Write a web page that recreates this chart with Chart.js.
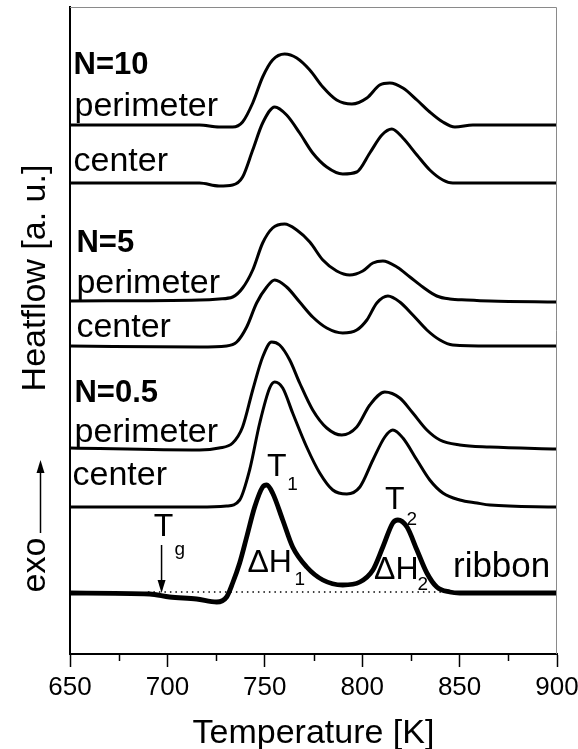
<!DOCTYPE html>
<html>
<head>
<meta charset="utf-8">
<script src="https://cdn.jsdelivr.net/npm/chart.js@4.4.1/dist/chart.umd.min.js"></script>
<style>
  html, body { margin: 0; padding: 0; background: #fff; }
  #wrap { width: 578px; height: 749px; position: relative; }
</style>
</head>
<body>
<div id="wrap"><canvas id="grafico"></canvas></div>
<script>
// temperatura [K] e heatflow [a. u.], curvas deslocadas na vertical
const n10PerimT  = [650, 716.5, 726.5, 733.5, 738.6, 743.8, 748.9, 754.0, 760.2, 766.4, 773.1, 779.8, 786.9, 794.7, 802.4, 809.0, 814.2, 820.9, 828.1, 834.7, 841.4, 847.6, 856.8, 900];
const n10PerimHF = [53.4, 53.4, 53.2, 53.2, 53.7, 55.6, 58.2, 59.9, 60.5, 60.1, 58.9, 57.2, 55.9, 55.5, 56.1, 57.4, 57.6, 57.1, 55.9, 54.7, 53.7, 53.2, 53.4, 53.4];

const n10CenterT  = [650, 716.5, 726.5, 733.5, 738.6, 743.8, 748.9, 755.1, 761.2, 767.9, 774.6, 781.8, 790.0, 797.2, 803.9, 810.1, 815.2, 820.9, 828.1, 834.7, 841.4, 846.5, 900];
const n10CenterHF = [47.6, 47.6, 47.3, 47.4, 48.2, 50.9, 53.6, 55.2, 54.4, 52.6, 50.6, 49.2, 48.5, 48.7, 50.6, 52.4, 53.0, 52.1, 50.4, 48.9, 47.9, 47.6, 47.6];

const n5PerimT  = [650, 716.5, 726.5, 733.5, 738.6, 743.8, 748.9, 754.0, 760.2, 766.4, 773.1, 779.8, 786.9, 793.6, 800.3, 805.5, 810.6, 817.8, 824.5, 831.1, 838.3, 845.0, 853.7, 865.6, 900];
const n5PerimHF = [35.8, 35.9, 36.0, 36.2, 37.1, 38.9, 41.6, 43.1, 43.5, 42.9, 41.7, 39.9, 38.8, 38.4, 38.8, 39.6, 39.8, 39.2, 38.2, 37.2, 36.3, 36.0, 35.9, 35.8, 35.7];

const n5CenterT  = [650, 716.5, 730.4, 735.6, 740.7, 745.8, 751.0, 755.1, 761.2, 767.9, 774.6, 781.8, 790.0, 797.2, 802.4, 807.5, 813.2, 819.3, 826.0, 833.2, 839.9, 846.5, 865.6, 900];
const n5CenterHF = [31.3, 31.2, 31.3, 31.7, 33.2, 35.6, 37.2, 37.9, 37.2, 35.7, 34.2, 33.1, 32.6, 32.9, 33.9, 35.6, 36.3, 35.7, 34.4, 32.9, 31.9, 31.4, 31.3, 31.3];

const n05PerimT  = [650, 716.5, 726.5, 733.5, 738.6, 743.8, 748.9, 753.5, 757.6, 762.8, 767.9, 774.6, 781.8, 789.5, 797.2, 803.9, 811.6, 819.3, 826.0, 833.2, 839.9, 850.1, 865.6, 900];
const n05PerimHF = [21.1, 20.9, 21.1, 21.6, 23.2, 26.9, 30.2, 31.7, 31.4, 29.9, 27.6, 24.9, 23.1, 22.4, 23.2, 25.4, 26.7, 26.1, 24.6, 22.9, 21.9, 21.4, 21.2, 21.0];

const n05CenterT  = [650, 716.5, 730.4, 737.1, 742.2, 747.4, 752.5, 755.1, 759.2, 764.3, 771.5, 778.2, 784.9, 792.1, 798.8, 805.5, 811.6, 815.7, 820.9, 828.1, 834.7, 841.4, 850.1, 858.9, 865.6, 900];
const n05CenterHF = [15.2, 15.2, 15.3, 15.9, 18.9, 23.6, 27.1, 27.7, 27.1, 24.6, 21.2, 18.6, 16.9, 16.5, 17.2, 19.9, 22.2, 22.9, 22.1, 19.9, 17.9, 16.6, 15.9, 15.6, 15.4, 15.2];

const ribbonT  = [650, 690.9, 701.1, 715.0, 725.3, 730.4, 733.5, 737.1, 740.7, 744.8, 748.9, 751.0, 754.0, 759.2, 764.3, 771.5, 779.8, 790.0, 798.8, 805.5, 810.6, 815.7, 818.3, 823.0, 828.1, 833.2, 838.3, 845.0, 850.1, 900];
const ribbonHF = [6.6, 6.5, 6.2, 6.0, 5.7, 6.2, 7.6, 9.6, 12.2, 15.2, 17.2, 17.4, 16.6, 13.9, 11.2, 9.2, 7.9, 7.4, 7.7, 8.9, 11.2, 13.6, 13.9, 13.2, 10.9, 8.6, 7.2, 6.7, 6.6, 6.6];

// linha de base pontilhada e seta do Tg
const baseT  = [690, 843];
const baseHF = [6.7, 6.7];
const tgT  = 697.0;
const tgHF = [11.4, 6.6];

const xTicks = [650, 700, 750, 800, 850, 900];
const minorTicks = [675, 725, 775, 825, 875];

// textos sobre as curvas (t = temperatura, v = heatflow)
const curveLabels = [
    { text: 'N=10', t: 651.8, v: 58.5, bold: true },
    { text: 'perimeter', t: 652.3, v: 54.3 },
    { text: 'center', t: 651.8, v: 48.8 },
    { text: 'N=5', t: 653.3, v: 40.7, bold: true },
    { text: 'perimeter', t: 653.3, v: 36.6 },
    { text: 'center', t: 653.3, v: 32.2 },
    { text: 'N=0.5', t: 652.3, v: 25.7, bold: true },
    { text: 'perimeter', t: 652.3, v: 21.7 },
    { text: 'center', t: 651.3, v: 17.4 },
    { text: 'ribbon', t: 846.6, v: 8.2, big: true }
];
const peakLabels = [
    { text: 'T', t: 698.0, v: 13.2 },
    { text: 'g', t: 706.3, v: 10.9, sub: true },
    { text: 'T', t: 756.1, v: 19.2 },
    { text: '1', t: 764.3, v: 17.4, sub: true },
    { text: 'T', t: 816.7, v: 15.9 },
    { text: '2', t: 825.5, v: 13.9, sub: true },
    { text: '\u0394H', t: 752.5, v: 9.6 },
    { text: '1', t: 767.9, v: 7.9, sub: true },
    { text: '\u0394H', t: 817.5, v: 8.9 },
    { text: '2', t: 831.1, v: 7.4, sub: true }
];

const FONTE = '"Liberation Sans", Arial, sans-serif';

function pontos(ts, vs) {
    return ts.map((t, i) => ({ x: t, y: vs[i] }));
}

function curva(ts, vs, largura) {
    return {
        data: pontos(ts, vs),
        borderColor: '#000',
        borderWidth: largura,
        cubicInterpolationMode: 'monotone',
        pointRadius: 0
    };
}

const anotacoes = {
    id: 'anotacoes',
    afterDraw(chart) {
        const { ctx, chartArea: a, scales: { x, y } } = chart;
        ctx.save();

        // moldura fina em cima e à direita
        ctx.strokeStyle = '#8a8a8a';
        ctx.lineWidth = 1;
        ctx.beginPath();
        ctx.moveTo(a.left, a.top + 0.5);
        ctx.lineTo(a.right - 0.5, a.top + 0.5);
        ctx.lineTo(a.right - 0.5, a.bottom);
        ctx.stroke();

        // ticks menores
        ctx.strokeStyle = '#000';
        ctx.lineWidth = 1.5;
        minorTicks.forEach(t => {
            const px = Math.round(x.getPixelForValue(t)) + 0.5;
            ctx.beginPath();
            ctx.moveTo(px, a.bottom);
            ctx.lineTo(px, a.bottom + 7);
            ctx.stroke();
        });

        // seta do Tg
        const ax = x.getPixelForValue(tgT);
        const ay0 = y.getPixelForValue(tgHF[0]);
        const ay1 = y.getPixelForValue(tgHF[1]);
        ctx.lineWidth = 1.5;
        ctx.beginPath();
        ctx.moveTo(ax, ay0);
        ctx.lineTo(ax, ay1 - 10);
        ctx.stroke();
        ctx.fillStyle = '#000';
        ctx.beginPath();
        ctx.moveTo(ax, ay1);
        ctx.lineTo(ax - 4, ay1 - 13);
        ctx.lineTo(ax + 4, ay1 - 13);
        ctx.closePath();
        ctx.fill();

        // rótulos das curvas
        ctx.textAlign = 'left';
        ctx.textBaseline = 'alphabetic';
        curveLabels.forEach(l => {
            ctx.font = l.bold ? 'bold 31px ' + FONTE : (l.big ? '35px ' : '34px ') + FONTE;
            ctx.fillText(l.text, x.getPixelForValue(l.t), y.getPixelForValue(l.v));
        });

        ctx.textAlign = 'center';
        ctx.textBaseline = 'middle';
        peakLabels.forEach(l => {
            ctx.font = (l.sub ? '19px ' : '32px ') + FONTE;
            ctx.fillText(l.text, x.getPixelForValue(l.t), y.getPixelForValue(l.v));
        });

        // título do eixo y e "exo"
        ctx.save();
        ctx.translate(45, 278);
        ctx.rotate(-Math.PI / 2);
        ctx.textBaseline = 'alphabetic';
        ctx.font = '34px ' + FONTE;
        ctx.fillText('Heatflow [a. u.]', 0, 0);
        ctx.restore();

        ctx.save();
        ctx.translate(45, 565);
        ctx.rotate(-Math.PI / 2);
        ctx.textBaseline = 'alphabetic';
        ctx.font = '34px ' + FONTE;
        ctx.fillText('exo', 0, 0);
        ctx.restore();

        ctx.lineWidth = 1.5;
        ctx.beginPath();
        ctx.moveTo(40.5, 533);
        ctx.lineTo(40.5, 470);
        ctx.stroke();
        ctx.beginPath();
        ctx.moveTo(40.5, 460);
        ctx.lineTo(36.5, 473);
        ctx.lineTo(44.5, 473);
        ctx.closePath();
        ctx.fill();

        ctx.restore();
    }
};

const datasets = [
    curva(n10PerimT, n10PerimHF, 3),
    curva(n10CenterT, n10CenterHF, 3),
    curva(n5PerimT, n5PerimHF, 3),
    curva(n5CenterT, n5CenterHF, 3),
    curva(n05PerimT, n05PerimHF, 3),
    curva(n05CenterT, n05CenterHF, 3),
    curva(ribbonT, ribbonHF, 4.8),
    {
        data: pontos(baseT, baseHF),
        borderColor: '#000',
        borderWidth: 1.3,
        borderDash: [1.5, 4],
        pointRadius: 0
    }
];

new Chart(document.getElementById('grafico'), {
    type: 'line',
    data: { datasets },
    options: {
        responsive: true,
        maintainAspectRatio: false,
        animation: false,
        layout: { padding: { top: 7, right: 21, left: 0, bottom: 0 } },
        plugins: { legend: { display: false }, tooltip: { enabled: false } },
        scales: {
            x: {
                type: 'linear', min: 650, max: 900,
                afterBuildTicks: s => { s.ticks = xTicks.map(v => ({ value: v })); },
                ticks: { color: '#000', font: { family: FONTE, size: 26 }, padding: 5, maxRotation: 0 },
                grid: { drawOnChartArea: false, drawTicks: true, tickLength: 13, tickColor: '#000', tickWidth: 1.5 },
                border: { color: '#000', width: 2 },
                title: { display: true, text: 'Temperature [K]', color: '#000', font: { family: FONTE, size: 34 }, padding: { top: 0, bottom: -5 } },
                afterFit: s => { s.height = 95; s.paddingLeft = 0; s.paddingRight = 0; }
            },
            y: {
                min: 0.5, max: 65.2,
                ticks: { display: false },
                grid: { display: false },
                border: { color: '#000', width: 2 },
                afterFit: s => { s.width = 70; }
            }
        }
    },
    plugins: [anotacoes]
});
</script>
</body>
</html>
